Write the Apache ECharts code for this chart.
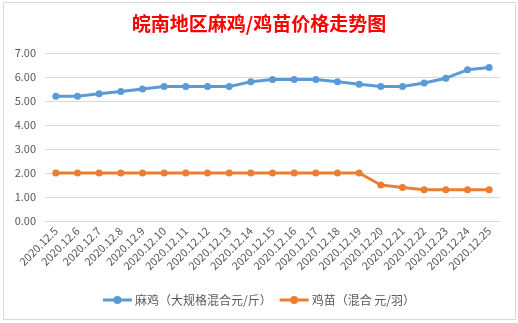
<!DOCTYPE html>
<html><head><meta charset="utf-8">
<script src="https://cdn.jsdelivr.net/npm/echarts@6/dist/echarts.min.js"></script>
<style>html,body{margin:0;padding:0;background:#fff}#c{width:518px;height:323px}</style>
</head><body><div id="c"></div>
<script>
var categories = ['2020.12.5','2020.12.6','2020.12.7','2020.12.8','2020.12.9','2020.12.10','2020.12.11','2020.12.12','2020.12.13','2020.12.14','2020.12.15','2020.12.16','2020.12.17','2020.12.18','2020.12.19','2020.12.20','2020.12.21','2020.12.22','2020.12.23','2020.12.24','2020.12.25'];
var maji = [5.2,5.2,5.3,5.4,5.5,5.6,5.6,5.6,5.6,5.8,5.9,5.9,5.9,5.8,5.7,5.6,5.6,5.75,5.95,6.3,6.4];
var jimiao = [2,2,2,2,2,2,2,2,2,2,2,2,2,2,2,1.5,1.4,1.3,1.3,1.3,1.3];
var seriesNames = ['麻鸡（大规格混合元/斤）','鸡苗（混合 元/羽）'];
var titleText = '皖南地区麻鸡/鸡苗价格走势图';

var chart = echarts.init(document.getElementById('c'));
var font = "'Microsoft YaHei','Noto Sans CJK SC',sans-serif";
var legendIcon = 'path://M0,2.5H29V5.5H0Z M18.5,4A4,4 0 1 1 10.5,4A4,4 0 1 1 18.5,4Z';
chart.setOption({
  animation:false,
  backgroundColor:'#fff',
  graphic:[{type:'rect',shape:{x:3.5,y:2.5,width:512,height:317},style:{fill:'none',stroke:'#d9d9d9',lineWidth:1},silent:true}],
  title:{text:titleText,left:'center',top:9,textStyle:{color:'#ff0000',fontSize:19,fontWeight:'bold',fontFamily:font}},
  legend:{bottom:12,left:'center',itemWidth:29,itemHeight:8,itemGap:8,
    textStyle:{color:'#595959',fontSize:12,fontFamily:font,padding:[0,0,0,-2]},
    data:seriesNames.map(function(n){return {name:n,icon:legendIcon};})},
  grid:{left:45,right:18,top:53,bottom:102,containLabel:false},
  xAxis:{type:'category',data:categories,boundaryGap:true,
    axisLine:{show:true,lineStyle:{color:'#d9d9d9'}},axisTick:{show:false},
    axisLabel:{rotate:45,interval:0,color:'#595959',fontSize:11,fontFamily:font,margin:8}},
  yAxis:{type:'value',min:0,max:7,interval:1,
    axisLine:{show:false},axisTick:{show:false},
    splitLine:{lineStyle:{color:'#d9d9d9'}},
    axisLabel:{color:'#595959',fontSize:11,fontFamily:font,margin:9,formatter:function(v){return v.toFixed(2);}}},
  series:[
    {name:seriesNames[0],type:'line',data:maji,symbol:'circle',symbolSize:7,
      lineStyle:{color:'#5b9bd5',width:3},itemStyle:{color:'#5b9bd5'}},
    {name:seriesNames[1],type:'line',data:jimiao,symbol:'circle',symbolSize:7,
      lineStyle:{color:'#ed7d31',width:3},itemStyle:{color:'#ed7d31'}}
  ]
});
</script></body></html>
